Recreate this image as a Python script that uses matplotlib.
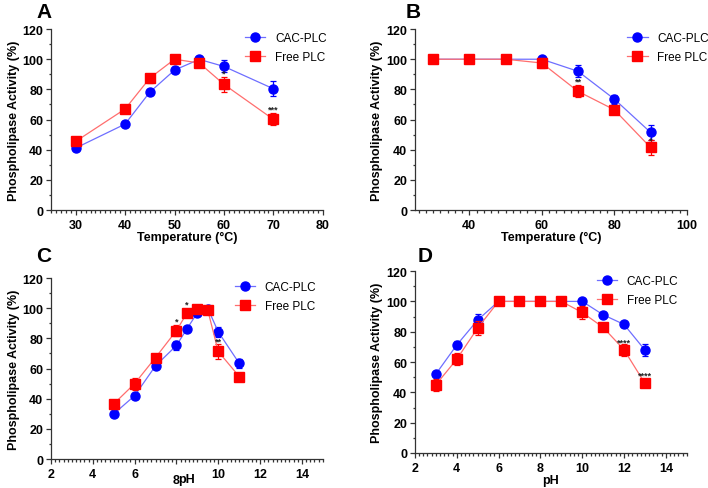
import matplotlib
matplotlib.use("Agg")
import matplotlib.pyplot as plt
from matplotlib.ticker import MultipleLocator
import matplotlib.transforms as mtransforms

plt.rcParams['font.family'] = ['Liberation Sans', 'DejaVu Sans']

# panel A: temperature optimum
tempA = [30, 40, 45, 50, 55, 60, 70]
cacA = [41.1, 57.0, 78.2, 92.8, 99.9, 95.2, 80.4]
cacA_err = [1.5, 2.0, 2.0, 2.0, 1.0, 4.0, 5.0]
freeA = [45.5, 67.0, 87.5, 100.0, 97.5, 83.3, 60.1]
freeA_err = [2.5, 2.0, 3.0, 1.0, 2.0, 5.0, 4.0]

# panel B: thermal stability
tempB = [30, 40, 50, 60, 70, 80, 90]
cacB = [100.0, 100.0, 100.0, 100.0, 92.0, 73.6, 51.5]
cacB_err = [0.5, 0.5, 0.5, 0.5, 4.0, 3.0, 5.0]
freeB = [100.0, 100.0, 100.0, 97.5, 78.7, 66.5, 41.5]
freeB_err = [0.5, 0.5, 0.5, 3.0, 4.0, 1.5, 5.0]

# panel C: pH optimum
phC = [5, 6, 7, 8, 8.5, 9, 9.5, 10, 11]
cacC = [29.9, 42.0, 61.8, 75.3, 86.3, 97.0, 99.8, 84.3, 63.5]
cacC_err = [1.0, 1.5, 1.5, 3.0, 1.5, 1.5, 1.0, 3.5, 3.0]
freeC = [36.5, 50.0, 67.3, 85.2, 96.7, 99.6, 98.5, 71.3, 54.7]
freeC_err = [1.5, 4.0, 1.5, 3.5, 1.5, 1.0, 1.5, 5.0, 1.5]

# panel D: pH stability
phD = [3, 4, 5, 6, 7, 8, 9, 10, 11, 12, 13]
cacD = [52.0, 71.2, 87.7, 100, 100, 100, 100, 100, 91.2, 84.8, 67.9]
cacD_err = [1.5, 2.5, 4.0, 0.5, 0.5, 0.5, 0.5, 0.5, 1.5, 2.0, 4.0]
freeD = [45.0, 61.8, 82.4, 100, 100, 100, 100, 92.7, 82.9, 68.1, 45.9]
freeD_err = [4.0, 4.0, 4.5, 0.5, 0.5, 0.5, 0.5, 4.0, 1.5, 4.0, 2.0]

# significance marks (x, y, text)
starsA = [(60, 91.0, '*'), (70, 67.0, '***')]
starsB = [(70, 85.5, '**'), (90, 46.5, '*')]
starsC = [(8, 91.5, '*'), (8.5, 102.5, '*'), (10, 78.5, '**')]
starsD = [(12, 73.5, '****'), (13, 51.5, '****')]

BLUE, BLUE_L = '#0000ff', '#6e6eff'
RED, RED_L = '#ff0000', '#ff6e6e'

fig = plt.figure(figsize=(7.08, 4.89), dpi=100)


def panel(rect, x, cac, cac_err, free, free_err, xlim, major, minor, xlabel,
          letter, letter_pos, leg_xy, stars):
    ax = fig.add_axes(rect)
    ax.errorbar(x, cac, yerr=cac_err, fmt='none', ecolor=BLUE, elinewidth=0.9,
                capsize=2.5, capthick=0.9, zorder=3, clip_on=False)
    ax.plot(x, cac, color=BLUE_L, lw=0.9, marker='o', ms=6.5, mfc=BLUE,
            mec=BLUE, label='CAC-PLC', zorder=4, clip_on=False)
    ax.errorbar(x, free, yerr=free_err, fmt='none', ecolor=RED, elinewidth=0.9,
                capsize=2.5, capthick=0.9, zorder=5, clip_on=False)
    ax.plot(x, free, color=RED_L, lw=0.9, marker='s', ms=6.5, mfc=RED,
            mec=RED, label='Free PLC', zorder=6, clip_on=False)
    for sx, sy, s in stars:
        ax.text(sx, sy, s, ha='center', va='center', fontsize=6.5,
                fontweight='bold', color='#222222', zorder=7)

    ax.set_xlim(*xlim)
    ax.set_ylim(0, 120)
    ax.xaxis.set_major_locator(MultipleLocator(major))
    ax.xaxis.set_minor_locator(MultipleLocator(minor))
    ax.yaxis.set_major_locator(MultipleLocator(20))
    ax.yaxis.set_minor_locator(MultipleLocator(10))
    for side in ('top', 'right'):
        ax.spines[side].set_visible(False)
    for side in ('left', 'bottom'):
        ax.spines[side].set_linewidth(0.9)
        ax.spines[side].set_color('#333333')
    ax.tick_params(which='major', length=3.5, width=0.9, color='#333333',
                   labelsize=9, pad=2)
    ax.tick_params(axis='x', which='major', pad=3)
    ax.tick_params(which='minor', length=1.8, width=0.9, color='#333333')
    for lab in ax.get_xticklabels() + ax.get_yticklabels():
        lab.set_fontweight('bold')
    ax.set_xlabel(xlabel, fontsize=9, fontweight='bold', labelpad=0)
    ax.set_ylabel('Phospholipase Activity (%)', fontsize=9,
                  fontweight='bold', labelpad=2)

    ax.legend(loc='upper left', bbox_to_anchor=leg_xy, frameon=False,
              fontsize=8.5, handlelength=1.75, handletextpad=0.8,
              labelspacing=0.65, borderpad=0, borderaxespad=0)
    fig.text(letter_pos[0] / 708, 1 - letter_pos[1] / 489, letter,
             fontsize=15, fontweight='bold', va='baseline', ha='left')
    return ax


axA = panel([0.072, 0.5685, 0.384, 0.370], tempA, cacA, cacA_err, freeA,
            freeA_err, (25, 80), 10, 1, 'Temperature (°C)', 'A', (36, 18),
            (0.713, 0.985), starsA)
axB = panel([0.586, 0.5685, 0.384, 0.370], tempB, cacB, cacB_err, freeB,
            freeB_err, (25, 100), 20, 2, 'Temperature (°C)', 'B', (406, 18),
            (0.78, 0.985), starsB)
axC = panel([0.072, 0.0593, 0.384, 0.370], phC, cacC, cacC_err, freeC,
            freeC_err, (2, 15), 2, 0.2, 'pH', 'C', (36, 262),
            (0.676, 0.985), starsC)
axD = panel([0.586, 0.0716, 0.384, 0.372], phD, cacD, cacD_err, freeD,
            freeD_err, (2, 15), 2, 0.2, 'pH', 'D', (418, 262),
            (0.669, 0.98), starsD)

# in panel C the "8" tick label sits lower, beside the pH label
axC.set_xticks([2, 4, 6, 8, 10, 12, 14])
axC.set_xticklabels(['2', '4', '6', '', '10', '12', '14'], fontweight='bold')
trans = mtransforms.blended_transform_factory(axC.transData, axC.transAxes)
axC.text(8, -0.085, '8', transform=trans, ha='center', va='top',
         fontsize=9, fontweight='bold')
axC.xaxis.set_label_coords(0.5, -0.075)

fig.savefig('out.png', dpi=100)
